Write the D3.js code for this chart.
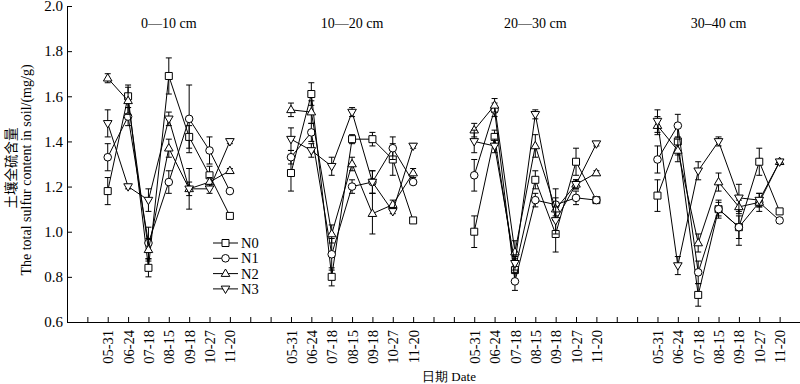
<!DOCTYPE html>
<html>
<head>
<meta charset="utf-8">
<script src="https://cdn.jsdelivr.net/npm/d3@7"></script>
<style>
  body { margin: 0; background: #fff; }
  svg { display: block; font-family: "Liberation Serif", "Times New Roman", serif; }
</style>
</head>
<body>
<svg width="800" height="384"></svg>
<script>
// depth layers (one panel each) and sampling dates
var depths = ["0\u201410 cm", "10\u201420 cm", "20\u201430 cm", "30\u201340 cm"];
var dates = ["05-31", "06-24", "07-18", "08-15", "09-18", "10-27", "11-20"];
var seriesNames = ["N0", "N1", "N2", "N3"];
var yTicks = [0.6, 0.8, 1.0, 1.2, 1.4, 1.6, 1.8, 2.0];

// total sulfur mg/g, one row per depth
var n0 = [[1.18, 1.60, 0.84, 1.69, 1.42, 1.25, 1.07],
          [1.26, 1.61, 0.80, 1.41, 1.41, 1.32, 1.05],
          [1.00, 1.42, 0.83, 1.23, 0.99, 1.31, 1.14],
          [1.16, 1.40, 0.72, 1.10, 1.02, 1.31, 1.09]];
var n1 = [[1.33, 1.51, 0.95, 1.22, 1.50, 1.36, 1.18],
          [1.33, 1.44, 0.90, 1.20, 1.22, 1.37, 1.22],
          [1.25, 1.54, 0.78, 1.14, 1.12, 1.15, 1.14],
          [1.32, 1.47, 0.82, 1.10, 1.02, 1.13, 1.05]];
var n2 = [[1.68, 1.58, 0.92, 1.37, 1.19, 1.22, 1.27],
          [1.54, 1.53, 0.99, 1.30, 1.08, 1.12, 1.26],
          [1.45, 1.56, 0.91, 1.38, 1.10, 1.21, 1.26],
          [1.47, 1.36, 0.95, 1.22, 1.11, 1.13, 1.31]];
var n3 = [[1.48, 1.20, 1.14, 1.50, 1.19, 1.19, 1.40],
          [1.41, 1.36, 1.29, 1.53, 1.22, 1.09, 1.38],
          [1.40, 1.38, 0.86, 1.52, 1.05, 1.21, 1.39],
          [1.49, 0.85, 1.27, 1.40, 1.15, 1.14, 1.31]];

// standard errors
var e0 = [[0.06, 0.05, 0.04, 0.08, 0.05, 0.04, 0.01],
          [0.08, 0.05, 0.04, 0.02, 0.03, 0.07, 0.01],
          [0.07, 0.03, 0.05, 0.04, 0.08, 0.06, 0.01],
          [0.07, 0.06, 0.05, 0.03, 0.05, 0.06, 0.01]];
var e1 = [[0.06, 0.04, 0.07, 0.05, 0.15, 0.06, 0.01],
          [0.03, 0.04, 0.07, 0.03, 0.05, 0.05, 0.01],
          [0.07, 0.03, 0.04, 0.03, 0.07, 0.03, 0.01],
          [0.06, 0.05, 0.05, 0.04, 0.08, 0.02, 0.01]];
var e2 = [[0.02, 0.06, 0.05, 0.04, 0.03, 0.02, 0.01],
          [0.03, 0.05, 0.04, 0.03, 0.09, 0.02, 0.02],
          [0.03, 0.03, 0.05, 0.05, 0.05, 0.02, 0.01],
          [0.04, 0.05, 0.04, 0.04, 0.03, 0.04, 0.01]];
var e3 = [[0.06, 0.01, 0.05, 0.03, 0.09, 0.02, 0.01],
          [0.05, 0.03, 0.04, 0.02, 0.05, 0.01, 0.01],
          [0.05, 0.03, 0.03, 0.02, 0.06, 0.02, 0.01],
          [0.05, 0.04, 0.04, 0.02, 0.06, 0.03, 0.01]];

var allValues = [n0, n1, n2, n3];
var allErrors = [e0, e1, e2, e3];

var svg = d3.select("svg"),
    plotLeft = 67, plotRight = 800, plotTop = 6, plotBottom = 322;

// x is a slot index: each depth takes 7 slots plus 2 empty ones
var slotsPerPanel = 9, firstSlot = 2;
var xScale = d3.scaleLinear().domain([0, 36]).range([plotLeft, plotRight]);
var yScale = d3.scaleLinear().domain([0.6, 2.0]).range([plotBottom, plotTop]);
function slot(p, i) { return firstSlot + p * slotsPerPanel + i; }

// x axis
var tickVals = d3.range(1, 37);
var labelOf = {};
depths.forEach(function(d, p) { dates.forEach(function(t, i) { labelOf[slot(p, i)] = t; }); });

var gx = svg.append("g")
    .attr("transform", "translate(0," + plotBottom + ")")
    .call(d3.axisBottom(xScale).tickValues(tickVals).tickSize(-5).tickSizeOuter(0)
          .tickFormat(function(d) { return labelOf[d] || ""; }));
gx.attr("font-family", null).attr("font-size", 14.5);
gx.selectAll("text")
    .attr("transform", "rotate(-90)")
    .attr("x", -8).attr("y", 0).attr("dy", "0.35em")
    .style("text-anchor", "end")
    .attr("fill", "#000");

// y axis
var gy = svg.append("g")
    .attr("transform", "translate(" + plotLeft + ",0)")
    .call(d3.axisLeft(yScale).tickValues(yTicks).tickSize(-5).tickSizeOuter(0).tickPadding(4)
          .tickFormat(d3.format(".1f")));
gy.attr("font-family", null).attr("font-size", 15);
gy.selectAll("text").attr("fill", "#000");
svg.selectAll(".domain, .tick line").attr("stroke", "#000");

// axis titles
svg.append("text")
    .attr("transform", "translate(449,381)")
    .attr("text-anchor", "middle")
    .attr("font-size", 13)
    .text("日期 Date");
svg.append("text")
    .attr("transform", "translate(16,168) rotate(-90)")
    .attr("text-anchor", "middle")
    .attr("font-family", "'Noto Sans CJK SC', serif")
    .attr("font-size", 13.5)
    .text("土壤全硫含量");
svg.append("text")
    .attr("transform", "translate(31,170) rotate(-90)")
    .attr("text-anchor", "middle")
    .attr("font-size", 14)
    .text("The total sulfur content in soil/(mg/g)");

// panel titles
depths.forEach(function(d, p) {
    svg.append("text")
        .attr("x", xScale(slot(p, 3)))
        .attr("y", 28)
        .attr("text-anchor", "middle")
        .attr("font-size", 14)
        .text(d);
});

// marker shapes
function markerPath(k) {
    if (k === 0) return "M-3.5,-3.5H3.5V3.5H-3.5Z";
    if (k === 1) return d3.arc()({innerRadius: 0, outerRadius: 3.8, startAngle: 0, endAngle: 2 * Math.PI});
    if (k === 2) return "M0,-4.6L4.3,2.8H-4.3Z";
    return "M0,4.6L4.3,-2.8H-4.3Z";
}

var line = d3.line()
    .x(function(d) { return xScale(d.s); })
    .y(function(d) { return yScale(d.v); });

var plot = svg.append("g");
seriesNames.forEach(function(name, k) {
    depths.forEach(function(dep, p) {
        var pts = dates.map(function(t, i) {
            return {s: slot(p, i), v: allValues[k][p][i], e: allErrors[k][p][i]};
        });
        var g = plot.append("g");
        g.append("path").datum(pts)
            .attr("d", line).attr("fill", "none").attr("stroke", "#000").attr("stroke-width", 1);
        var eb = g.selectAll(".eb").data(pts).enter().append("g");
        eb.append("line")
            .attr("x1", function(d) { return xScale(d.s); }).attr("x2", function(d) { return xScale(d.s); })
            .attr("y1", function(d) { return yScale(d.v - d.e); }).attr("y2", function(d) { return yScale(d.v + d.e); });
        eb.append("line")
            .attr("x1", function(d) { return xScale(d.s) - 3; }).attr("x2", function(d) { return xScale(d.s) + 3; })
            .attr("y1", function(d) { return yScale(d.v + d.e); }).attr("y2", function(d) { return yScale(d.v + d.e); });
        eb.append("line")
            .attr("x1", function(d) { return xScale(d.s) - 3; }).attr("x2", function(d) { return xScale(d.s) + 3; })
            .attr("y1", function(d) { return yScale(d.v - d.e); }).attr("y2", function(d) { return yScale(d.v - d.e); });
        eb.selectAll("line").attr("stroke", "#000").attr("stroke-width", 1);
        g.selectAll(".mk").data(pts).enter().append("path")
            .attr("transform", function(d) { return "translate(" + xScale(d.s) + "," + yScale(d.v) + ")"; })
            .attr("d", markerPath(k))
            .attr("fill", "#fff").attr("stroke", "#000").attr("stroke-width", 1);
    });
});

// legend
var legend = svg.append("g").attr("transform", "translate(213,243)");
seriesNames.forEach(function(name, k) {
    var row = legend.append("g").attr("transform", "translate(0," + (k * 15.3) + ")");
    row.append("line").attr("x1", 0).attr("x2", 25).attr("stroke", "#000");
    row.append("path").attr("transform", "translate(12.5,0)").attr("d", markerPath(k))
        .attr("fill", "#fff").attr("stroke", "#000");
    row.append("text").attr("x", 28).attr("dy", "0.35em").attr("font-size", 14.5).text(name);
});
</script>
</body>
</html>
